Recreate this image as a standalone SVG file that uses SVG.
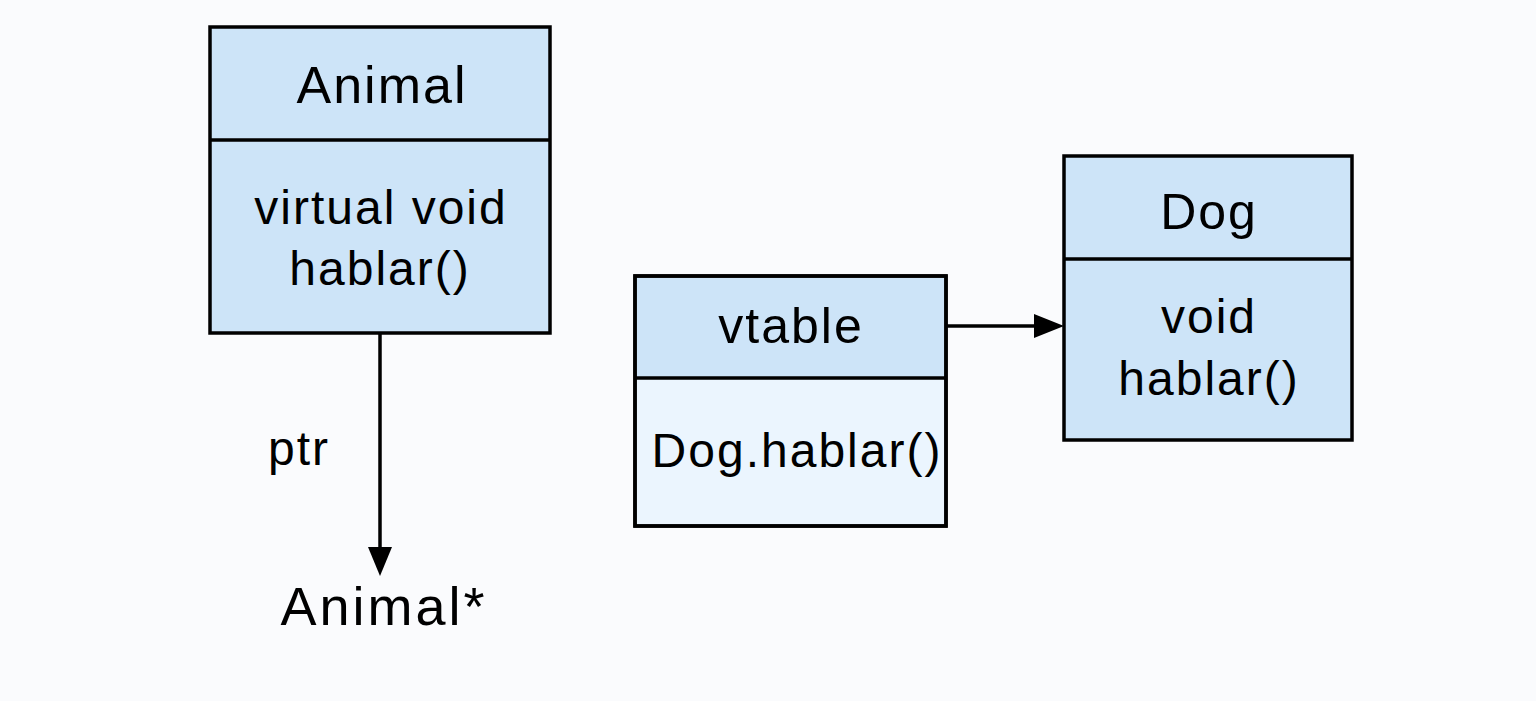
<svg xmlns="http://www.w3.org/2000/svg" width="1536" height="701" viewBox="0 0 1536 701">
<style>
.box{stroke:#000;stroke-width:3.5}
.hdr{fill:#cde4f8}
.light{fill:#ebf5fe}
.t{font-family:"Liberation Sans",Arial,sans-serif;font-size:50px;fill:#000;text-anchor:middle;letter-spacing:2px}
.line{stroke:#000;stroke-width:3.5;fill:none}
</style>
<rect width="1536" height="701" fill="#fafbfd"/>
<g id="connectors">
<line class="line" x1="380" y1="334" x2="380" y2="548"/>
<path d="M368,547 L392,547 L380,576 Z" fill="#000"/>
<line class="line" x1="947" y1="326" x2="1036" y2="326"/>
<path d="M1034,314 L1064,326 L1034,338 Z" fill="#000"/>
</g>
<g id="animal">
<rect class="box hdr" x="210" y="27" width="340" height="306"/>
<line class="line" x1="210" y1="140" x2="550" y2="140"/>
<text class="t" x="382" y="103" style="font-size:52px">Animal</text>
<text class="t" x="381" y="224" style="font-size:48px">virtual void</text>
<text class="t" x="380" y="285" style="font-size:48px">hablar()</text>
</g>
<g id="vtable">
<rect class="box light" x="635" y="276" width="311" height="250"/>
<rect class="hdr" x="637" y="278" width="307" height="99"/>
<rect x="635" y="276" width="311" height="250" fill="none" stroke="#000" stroke-width="3.5"/>
<line class="line" x1="635" y1="378" x2="946" y2="378"/>
<text class="t" x="791" y="343" style="font-size:50px">vtable</text>
<text class="t" x="797" y="467" style="font-size:48px">Dog.hablar()</text>
</g>
<g id="dog">
<rect class="box hdr" x="1064" y="156" width="288" height="284"/>
<line class="line" x1="1064" y1="259" x2="1352" y2="259"/>
<text class="t" x="1209" y="229" style="font-size:50px">Dog</text>
<text class="t" x="1209" y="333" style="font-size:48px">void</text>
<text class="t" x="1209" y="395" style="font-size:48px">hablar()</text>
</g>
<g id="labels">
<text class="t" x="299" y="465" style="font-size:48px">ptr</text>
<text class="t" x="384" y="625" style="font-size:54px;letter-spacing:3px">Animal*</text>
</g>
</svg>
